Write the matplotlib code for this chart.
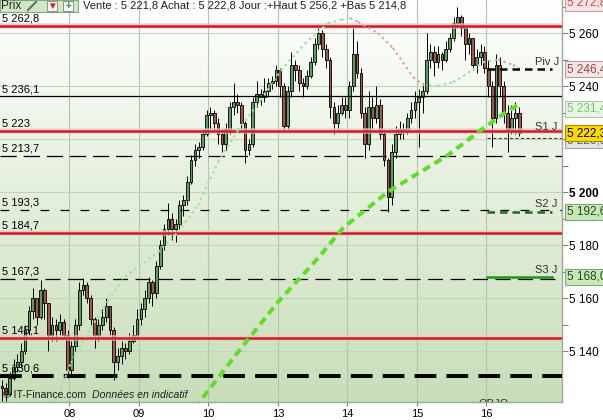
import numpy as np
import matplotlib
matplotlib.use('Agg')
import matplotlib.pyplot as plt
from matplotlib.patches import Rectangle
from matplotlib.transforms import blended_transform_factory
from matplotlib.collections import LineCollection

plt.rcParams['font.family'] = ['Liberation Sans', 'DejaVu Sans']

# ---------------- data ----------------
day_labels = ['08', '09', '10', '13', '14', '15', '16']
candles_per_day = 18
first_open = 5127.0

closes = [
    # 07
    5126, 5124, 5130, 5134, 5136, 5140, 5148, 5155, 5160, 5153, 5163, 5158, 5146, 5150, 5148, 5151, 5146, 5133,
    # 08
    5142, 5150, 5163, 5165, 5160, 5152, 5146, 5150, 5153, 5157, 5148, 5136, 5138, 5141, 5140, 5144, 5146, 5152,
    # 09
    5156, 5160, 5166, 5162, 5172, 5180, 5186, 5190, 5186, 5188, 5195, 5197, 5204, 5212, 5216, 5217, 5222, 5229,
    # 10
    5230, 5226, 5222, 5218, 5224, 5232, 5234, 5233, 5226, 5216, 5218, 5234, 5237, 5236, 5238, 5241, 5242, 5246,
    # 13
    5240, 5225, 5238, 5248, 5246, 5241, 5240, 5244, 5249, 5256, 5260, 5254, 5250, 5232, 5226, 5230, 5233, 5231,
    # 14
    5240, 5252, 5245, 5230, 5218, 5232, 5228, 5233, 5222, 5212, 5198, 5215, 5222, 5224, 5223, 5228, 5231, 5234,
    # 15
    5236, 5238, 5250, 5253, 5249, 5252, 5250, 5254, 5258, 5264, 5266, 5262, 5256, 5258, 5248, 5251, 5253, 5247,
    # 16
    5240, 5228, 5248, 5240, 5230, 5224, 5228, 5230, 5222.3,
]
highs = [
    5129, 5128, 5132, 5137, 5139, 5143, 5150, 5157, 5164, 5158, 5167, 5164, 5158, 5153, 5152, 5154, 5152, 5148,
    5144, 5152, 5166, 5167.5, 5166, 5161, 5153, 5152, 5156, 5160, 5157, 5149, 5141, 5144, 5143, 5147, 5150, 5156,
    5158, 5163, 5168, 5167, 5174, 5182, 5188, 5196, 5192, 5190, 5197, 5199, 5206, 5214, 5218, 5219, 5224, 5231,
    5232, 5231, 5228, 5224, 5226, 5234, 5241, 5237, 5234, 5227, 5220, 5236, 5242, 5239, 5243, 5243, 5244, 5248,
    5247, 5241, 5240, 5253, 5250, 5248, 5243, 5246, 5251, 5258, 5262.5, 5261, 5256, 5251, 5234, 5233, 5236, 5236,
    5242, 5262, 5257, 5247, 5232, 5238, 5236, 5240, 5235, 5224, 5213, 5218, 5225, 5227, 5226, 5230, 5234, 5238,
    5239, 5241, 5260, 5256, 5255, 5255, 5253, 5257, 5260, 5266, 5270, 5267, 5263, 5260, 5258, 5254, 5256, 5255,
    5250, 5242, 5252, 5251, 5242, 5233, 5233, 5234, 5232,
]
lows = [
    5121, 5121, 5123, 5129, 5132, 5134, 5139, 5146, 5152, 5150, 5152, 5152, 5140, 5144, 5144, 5146, 5145, 5130,
    5131, 5140, 5148, 5161, 5158, 5150, 5141, 5144, 5148, 5151, 5146, 5129, 5133, 5135, 5137, 5139, 5143, 5145,
    5150, 5153, 5158, 5157, 5160, 5171, 5178, 5184, 5182, 5181, 5186, 5191, 5195, 5203, 5210, 5213, 5216, 5221,
    5224, 5223, 5218, 5215, 5216, 5222, 5229, 5230, 5224, 5211, 5214, 5217, 5232, 5233, 5234, 5236, 5239, 5240,
    5236, 5222.5, 5224, 5236, 5242, 5238, 5236, 5239, 5243, 5248, 5254, 5251, 5247, 5228, 5222, 5224, 5229, 5228,
    5228, 5238, 5243, 5228, 5213, 5216, 5224, 5226, 5220, 5210, 5192.5, 5195, 5213, 5220, 5220, 5222, 5226, 5228,
    5217, 5230, 5237, 5247, 5244, 5247, 5246, 5249, 5253, 5257, 5262, 5259, 5250, 5252, 5246, 5245, 5248, 5245,
    5236, 5217, 5226, 5236, 5226, 5215, 5222, 5222, 5221,
]

# short moving average (dotted, coloured by direction)
ma_short_idx = [10, 14.3, 15.8, 18.4, 22.8, 28.0, 32.4, 41.0, 46.1, 51.3, 56.5, 61.7, 67.6, 72.8, 79.0,
                85.0, 88.4, 90.7, 92.8, 97.9, 101.8, 104.4, 107.0, 109.6, 113.5, 117.4, 121.3, 125.1,
                129.0, 132.9, 134.5]
ma_short_val = [5112, 5121.6, 5126, 5135.5, 5147, 5159, 5168, 5177.4, 5185, 5195, 5211.4, 5223.4, 5234.8,
                5246, 5256, 5263.8, 5265, 5265.7, 5264.2, 5260, 5254.4, 5249, 5243.4, 5240.4, 5240,
                5241.5, 5245, 5249, 5250, 5248, 5247]

# long moving average (thick green dashes)
ma_long_idx = [48, 52.1, 61.7, 72.0, 82.4, 88.9, 100.5, 116.1, 124.6, 130.8, 134.2]
ma_long_val = [5110, 5121.6, 5139.7, 5158.5, 5175.1, 5186.5, 5200.1, 5214, 5223.4, 5229.9, 5232.9]

red_levels = [5262.8, 5223.0, 5184.7, 5145.1]
solid_black_levels = [5236.1]
dashed_levels = [5213.7, 5193.3, 5167.3]
thick_dashed_level = 5130.6
left_labels = [(5262.8, '5 262,8'), (5236.1, '5 236,1'), (5223.0, '5 223'), (5213.7, '5 213,7'),
               (5193.3, '5 193,3'), (5184.7, '5 184,7'), (5167.3, '5 167,3'), (5145.1, '5 145,1'),
               (5130.6, '5 130,6')]

pivot_level = 5246.4
s1_level = 5220.5
s2_level = 5192.6
s3_level = 5168.0

ytick_vals = [5140, 5150, 5160, 5170, 5180, 5190, 5200, 5210, 5220, 5230, 5240, 5250, 5260, 5270]
major_vals = [5140, 5160, 5180, 5200, 5220, 5240, 5260]

header_text = 'Vente : 5 221,8 Achat : 5 222,8 Jour :+Haut 5 256,2 +Bas 5 214,8'

# ---------------- figure ----------------
W, H = 603, 420
fig = plt.figure(figsize=(W / 100, H / 100), dpi=100)
fig.patch.set_facecolor('white')
ax_right_px = 562
ax_bottom_px = 402
ax = fig.add_axes([0, (H - ax_bottom_px) / H, ax_right_px / W, ax_bottom_px / H])

px_per_idx = 3.86
xmax = ax_right_px / px_per_idx
ymin, ymax = 5120.8, 5272.5
ax.set_xlim(0, xmax)
ax.set_ylim(ymin, ymax)

# gradient background
grad = np.linspace(0, 1, 256)[:, None]
top_c = np.array([1.0, 1.0, 1.0])
bot_c = np.array([0xc8, 0xde, 0xb8]) / 255
img = (top_c[None, None, :] * (1 - grad[:, :, None]) + bot_c[None, None, :] * grad[:, :, None])
ax.imshow(img, extent=(0, xmax, ymin, ymax), aspect='auto', origin='upper', zorder=0)

# grid
day_ticks = [candles_per_day * (d + 1) for d in range(len(day_labels))]
for xt in day_ticks:
    ax.axvline(xt, color='#b4c4ac', lw=0.8, zorder=1)
for yv in major_vals:
    ax.axhline(yv, color='#c4d4bc', lw=0.8, zorder=1)

# candles
n = len(closes)
opens = [first_open] + closes[:-1]
body_w = 0.72
for k in range(n):
    o, c, h, l = opens[k], closes[k], highs[k], lows[k]
    xc = k + 0.5
    ax.plot([xc, xc], [l, h], color='black', lw=0.7, zorder=3, solid_capstyle='butt')
    up = c >= o
    bottom = min(o, c)
    height = max(abs(c - o), 0.35)
    ax.add_patch(Rectangle((xc - body_w / 2, bottom), body_w, height,
                           facecolor='#5e9c5e' if up else '#a65450',
                           edgecolor='black', lw=0.6, zorder=3.5))

# horizontal levels
for lv in red_levels:
    ax.axhline(lv, color='#f2c4c4', lw=4.0, zorder=4, alpha=0.75)
    ax.axhline(lv, color='#c81e24', lw=1.8, zorder=4.1)
for lv in solid_black_levels:
    ax.axhline(lv, color='black', lw=0.9, zorder=4)
ax.axhline(dashed_levels[0], color='black', lw=0.9, zorder=4, linestyle=(0, (13, 5.5)))
ax.axhline(dashed_levels[1], color='black', lw=0.9, zorder=4, linestyle=(0, (7, 9)))
ax.axhline(dashed_levels[2], color='black', lw=0.9, zorder=4, linestyle=(0, (12, 6)))
ax.axhline(thick_dashed_level, color='black', lw=2.8, zorder=4, linestyle=(0, (5.6, 2.6)))

# moving averages
pts = np.column_stack([ma_short_idx, ma_short_val])
segs = [pts[i:i + 2] for i in range(len(pts) - 1)]
cols = ['#e0a0a0' if ma_short_val[i + 1] < ma_short_val[i] - 0.5 else '#9ee49e' for i in range(len(pts) - 1)]
lc = LineCollection(segs, colors=cols, linewidths=1.5, linestyles=[(0, (1.2, 1.6))], zorder=4.5)
ax.add_collection(lc)
ax.plot(ma_long_idx, ma_long_val, color='#62dc2a', lw=2.9, linestyle=(0, (2.0, 1.3)), zorder=4.6)

# pivot lines (right side)
p0 = 487 / px_per_idx
p1 = 552 / px_per_idx
ax.plot([p0, p1], [pivot_level, pivot_level], color='black', lw=1.8, linestyle=(0, (3, 2)), zorder=5)
ax.plot([p0, xmax], [s1_level, s1_level], color='#404040', lw=0.8, linestyle=(0, (3, 2)), zorder=5)
ax.plot([p0, p1], [s2_level, s2_level], color='#1c6a1c', lw=1.8, linestyle=(0, (3, 2)), zorder=5)
ax.plot([p0, p1], [s3_level, s3_level], color='#139a13', lw=1.8, zorder=5)
lab_x = 535 / px_per_idx
for lv, txt in [(pivot_level, 'Piv J'), (5221.8, 'S1 J'), (s2_level, 'S2 J'), (s3_level, 'S3 J')]:
    ax.text(lab_x, lv + 0.9, txt, fontsize=8, color='#333333', va='bottom', ha='left', zorder=6)

# left level labels
for lv, txt in left_labels:
    ax.text(0.4, lv + 0.8, txt, fontsize=8, color='black', va='bottom', ha='left', zorder=6)

# axes styling
ax.yaxis.tick_right()
ax.set_yticks(ytick_vals)
ax.set_yticklabels(['{:,}'.format(v).replace(',', ' ') if v in major_vals else '' for v in ytick_vals])
ax.tick_params(axis='y', direction='out', length=4, width=0.8, color='#808080', labelsize=8.5, pad=1)
for lab in ax.get_yticklabels():
    if lab.get_text() == '5 200':
        lab.set_fontweight('bold')
ax.set_xticks(day_ticks)
ax.set_xticklabels(day_labels)
ax.tick_params(axis='x', direction='out', length=3, width=0.8, color='#808080', labelsize=8, pad=2)
for s in ['top', 'left']:
    ax.spines[s].set_visible(False)
for s in ['right', 'bottom']:
    ax.spines[s].set_color('#9aaa9a')
    ax.spines[s].set_linewidth(1.0)

# right value boxes
tr = blended_transform_factory(ax.transAxes, ax.transData)
boxes = [
    (5219.6, '5 220,5', '#606060', '#e4e4e4', '#a0a0a0'),
    (5271.6, '5 272,8', '#d04848', '#f8e4e4', '#c8a0a0'),
    (pivot_level, '5 246,4', '#a04040', '#f6e6e6', '#b0a0a0'),
    (5231.4, '5 231,4', '#6cc86c', '#eaf6e4', '#b0c4b0'),
    (5222.3, '5 222,3', '#000000', '#ffd800', '#a09000'),
    (s2_level, '5 192,6', '#1c4a1c', '#c8e8b8', '#80a080'),
    (s3_level, '5 168,0', '#1c4a1c', '#c8e8b8', '#80a080'),
]
for yv, txt, tc, fc, ec in boxes:
    ax.text(1.009, yv, txt, transform=tr, fontsize=8.5, color=tc, va='center', ha='left',
            clip_on=False, zorder=10,
            bbox=dict(boxstyle='square,pad=0.18', facecolor=fc, edgecolor=ec, lw=0.8))

# bottom texts
ax.text(0.8, ymin + 2.6, '© IT-Finance.com', fontsize=7.6, color='#202020', va='center', ha='left', zorder=6)
ax.text(92 / px_per_idx, ymin + 2.6, 'Données en indicatif', fontsize=7.6, style='italic',
        color='#202020', va='center', ha='left', zorder=6)
ax.text(478 / px_per_idx, ymin - 0.6, 'OBJO', fontsize=8, color='#303030', va='center', ha='left',
        zorder=6, clip_on=True)

# header bar
def fx(x):
    return x / W


def fy(y):
    return 1 - y / H


fig.patches.append(Rectangle((fx(0), fy(12)), fx(78), 12 / H, transform=fig.transFigure,
                             facecolor='#d2e8c4', edgecolor='#80a880', lw=0.8, zorder=20))
fig.text(fx(1), fy(9), 'Prix', fontsize=8.5, color='#202020', va='baseline', ha='left', zorder=21)
fig.lines.append(plt.Line2D([fx(28), fx(36)], [fy(10), fy(2)], transform=fig.transFigure,
                            color='#707070', lw=1.6, zorder=21))
for x0, sym, col in [(47, '▼', '#d02020'), (63, '+', '#209020')]:
    fig.patches.append(Rectangle((fx(x0), fy(11)), fx(10), 10 / H, transform=fig.transFigure,
                                 facecolor='#f4f4f4', edgecolor='#909090', lw=0.7, zorder=21))
    fig.text(fx(x0 + 5), fy(6), sym, fontsize=7, color=col, fontweight='bold',
             va='center', ha='center', zorder=22)
fig.text(fx(83), fy(8), header_text, fontsize=8.0, color='#202020', va='baseline', ha='left', zorder=21)

fig.savefig('out.png', dpi=100)
